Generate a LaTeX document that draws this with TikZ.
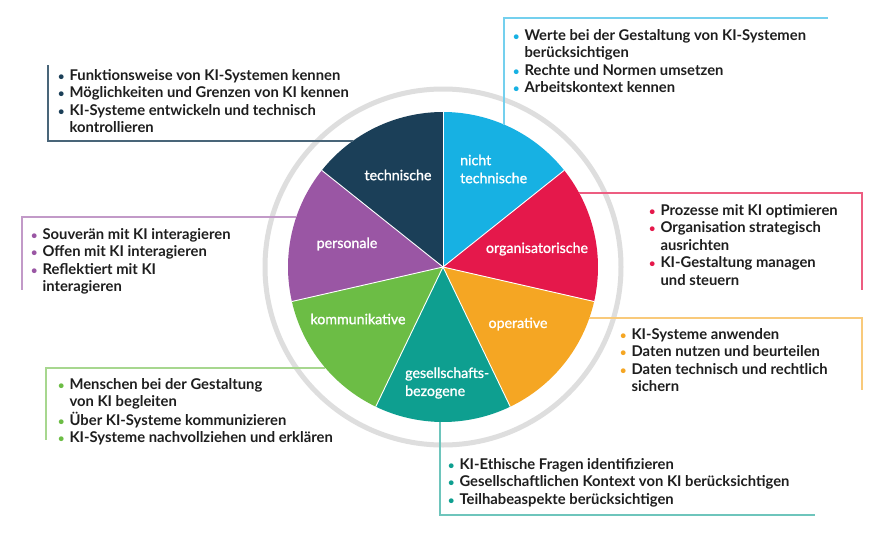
\documentclass[tikz,border=0pt]{standalone}
\usepackage{fontspec}
\setmainfont{Lato}
\newfontfamily\latomed[FakeBold=1.2]{Lato}
\definecolor{cnavy}{HTML}{1B3F58}
\definecolor{ccyan}{HTML}{17B1E3}
\definecolor{cred}{HTML}{E5184B}
\definecolor{corange}{HTML}{F5A623}
\definecolor{cteal}{HTML}{0E9F90}
\definecolor{cgreen}{HTML}{6CBD45}
\definecolor{cpurple}{HTML}{9A56A4}
\definecolor{cring}{HTML}{DEDEDE}
\definecolor{ctext}{HTML}{1E1E1E}
\newcommand\bul[1]{\textcolor{#1}{\fontsize{11}{11}\selectfont\textbullet}}
\newcommand\listfont{\bfseries\fontsize{14.8}{17.6}\selectfont}
\newcommand\slicefont{\latomed\fontsize{14.2}{18}\selectfont}
\tikzset{
  lst/.style={anchor=base west, inner sep=0pt, text=ctext, font=\listfont},
  slab/.style={text=white, font=\slicefont, align=left, inner sep=0pt},
  conn/.style={line width=1.2pt},
}
\begin{document}
\begin{tikzpicture}[x=1pt,y=-1pt]
\fill[white] (0,0) rectangle (887,533);
\useasboundingbox (0,0) rectangle (887,533);
\coordinate (C) at (443,267);
% ring
\draw[cring, line width=5pt] (C) circle[radius=178];
% pie slices (page angles negated because y points down)
\def\d{51.428571}
\foreach \i/\col in {0/ccyan,1/cred,2/corange,3/cteal,4/cgreen,5/cpurple,6/cnavy}{
  \pgfmathsetmacro\sa{-90+\i*\d}
  \pgfmathsetmacro\ea{-90+(\i+1)*\d}
  \fill[\col] (C) -- ++(\sa:155) arc[start angle=\sa, end angle=\ea, radius=155] -- cycle;
}
\foreach \i in {0,...,6}{
  \pgfmathsetmacro\sa{-90+\i*\d}
  \draw[white, line width=0.9pt] (C) -- ++(\sa:155);
}
% slice labels
\node[slab, anchor=center] (s1) at (398,175) {technische};
\node[slab, anchor=west] (s2) at (460,169) {nicht\\technische};
\node[slab, anchor=center] (s3) at (537,249) {organisatorische};
\node[slab, anchor=center] (s4) at (518,324) {operative};
\node[slab, anchor=west] (s5) at (405,383) {gesellschafts-\\bezogene};
\node[slab, anchor=center] (s6) at (358,319) {kommunikative};
\node[slab, anchor=center] (s7) at (347,244) {personale};
% connector points
\coordinate (e1) at (352.7,141); \coordinate (k1) at (48,141); \coordinate (t1) at (48,65);
\coordinate (e2) at (504,124.5); \coordinate (k2) at (504,18); \coordinate (t2) at (828,18);
\coordinate (e3) at (579,193); \coordinate (k3) at (862,193); \coordinate (t3) at (862,290);
\coordinate (e4) at (589.4,318); \coordinate (k4) at (862,318); \coordinate (t4) at (862,390);
\coordinate (e5) at (440,422); \coordinate (k5) at (440,515); \coordinate (t5) at (815,515);
\coordinate (e6) at (325.4,368); \coordinate (k6) at (46,368); \coordinate (t6) at (46,440);
\coordinate (e7) at (296.3,217); \coordinate (k7) at (22,217); \coordinate (t7) at (22,290);
\draw[conn, cnavy!80] (e1) -- (k1) -- (t1);
\draw[conn, ccyan!60] (e2) -- (k2) -- (t2);
\draw[conn, cred!70] (e3) -- (k3) -- (t3);
\draw[conn, corange!60] (e4) -- (k4) -- (t4);
\draw[conn, cteal!60] (e5) -- (k5) -- (t5);
\draw[conn, cgreen!60] (e6) -- (k6) -- (t6);
\draw[conn, cpurple!60] (e7) -- (k7) -- (t7);
% lists
\node[lst] (l1) at (58,80) {\begin{tabular}[t]{@{}l@{\hspace{5pt}}l@{}}
\bul{cnavy} & Funktionsweise von KI-Systemen kennen\\
\bul{cnavy} & Möglichkeiten und Grenzen von KI kennen\\
\bul{cnavy} & KI-Systeme entwickeln und technisch\\
 & kontrollieren
\end{tabular}};
\node[lst] (l2) at (513,40) {\begin{tabular}[t]{@{}l@{\hspace{5pt}}l@{}}
\bul{ccyan} & Werte bei der Gestaltung von KI-Systemen\\
 & berücksichtigen\\
\bul{ccyan} & Rechte und Normen umsetzen\\
\bul{ccyan} & Arbeitskontext kennen
\end{tabular}};
\node[lst] (l3) at (649,215) {\begin{tabular}[t]{@{}l@{\hspace{5pt}}l@{}}
\bul{cred} & Prozesse mit KI optimieren\\
\bul{cred} & Organisation strategisch\\
 & ausrichten\\
\bul{cred} & KI-Gestaltung managen\\
 & und steuern
\end{tabular}};
\node[lst] (l4) at (620,339) {\begin{tabular}[t]{@{}l@{\hspace{5pt}}l@{}}
\bul{corange} & KI-Systeme anwenden\\
\bul{corange} & Daten nutzen und beurteilen\\
\bul{corange} & Daten technisch und rechtlich\\
 & sichern
\end{tabular}};
\node[lst] (l5) at (448,469) {\begin{tabular}[t]{@{}l@{\hspace{5pt}}l@{}}
\bul{cteal} & KI-Ethische Fragen identifizieren\\
\bul{cteal} & Gesellschaftlichen Kontext von KI berücksichtigen\\
\bul{cteal} & Teilhabeaspekte berücksichtigen
\end{tabular}};
\node[lst] (l6) at (58,389) {\begin{tabular}[t]{@{}l@{\hspace{5pt}}l@{}}
\bul{cgreen} & Menschen bei der Gestaltung\\
 & von KI begleiten\\
\bul{cgreen} & Über KI-Systeme kommunizieren\\
\bul{cgreen} & KI-Systeme nachvollziehen und erklären
\end{tabular}};
\node[lst] (l7) at (31,239) {\begin{tabular}[t]{@{}l@{\hspace{5pt}}l@{}}
\bul{cpurple} & Souverän mit KI interagieren\\
\bul{cpurple} & Offen mit KI interagieren\\
\bul{cpurple} & Reflektiert mit KI\\
 & interagieren
\end{tabular}};
\end{tikzpicture}
\end{document}
